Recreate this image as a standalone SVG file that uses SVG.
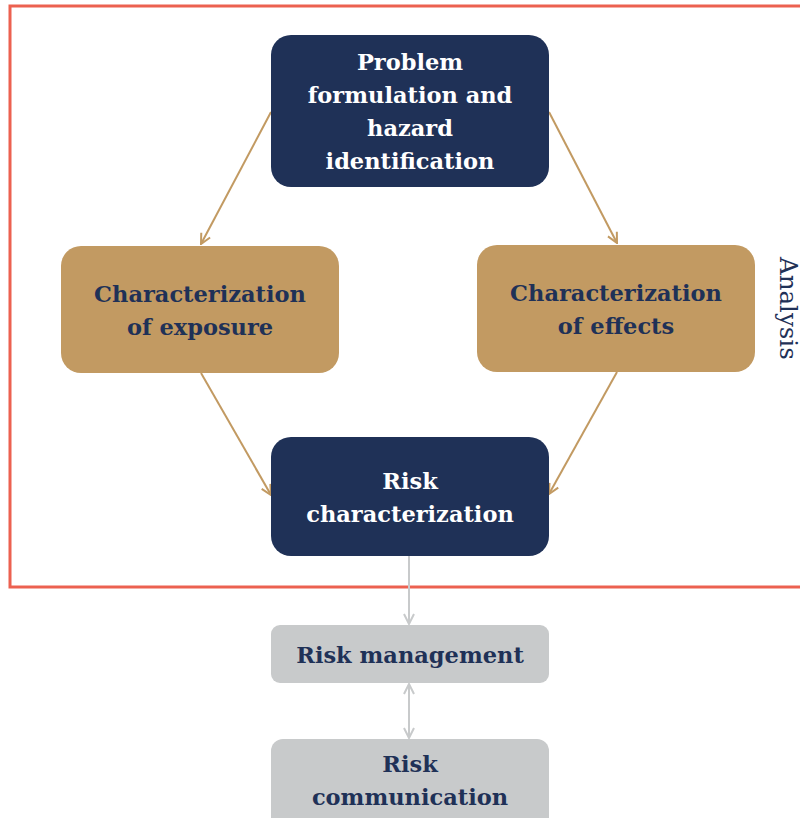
<svg xmlns="http://www.w3.org/2000/svg" width="800" height="818" viewBox="0 0 800 818">
<defs>
<style>
.navy{fill:#1f3157}
.tan{fill:#c29a62}
.gray{fill:#c8cacb}
.t{font-family:"DejaVu Serif","Liberation Serif",serif;font-weight:bold;font-size:22.5px;text-anchor:middle}
.w{fill:#ffffff}
.d{fill:#1f3157}
.c1{stroke:#c29a62;stroke-width:2;fill:none}
.c2{stroke:#c8cacb;stroke-width:2;fill:none}
</style>
<marker id="at" viewBox="0 0 12 12" refX="11" refY="6" markerWidth="12" markerHeight="12" markerUnits="userSpaceOnUse" orient="auto-start-reverse">
<path d="M1,1 L11,6 L1,11" fill="none" stroke="#c29a62" stroke-width="2"/>
</marker>
<marker id="ag" viewBox="0 0 12 12" refX="11" refY="6" markerWidth="12" markerHeight="12" markerUnits="userSpaceOnUse" orient="auto-start-reverse">
<path d="M1,1 L11,6 L1,11" fill="none" stroke="#c8cacb" stroke-width="2"/>
</marker>
</defs>
<rect width="800" height="818" fill="#ffffff"/>
<rect x="10" y="6" width="800" height="581" fill="none" stroke="#ec6150" stroke-width="3"/>
<text x="780" y="257" transform="rotate(90 780 257)" font-family="DejaVu Serif,serif" font-size="24.5" fill="#1f3157">Analysis</text>
<g id="connectors">
<line class="c1" x1="271" y1="112" x2="201" y2="244" marker-end="url(#at)"/>
<line class="c1" x1="549" y1="112" x2="617" y2="243" marker-end="url(#at)"/>
<line class="c1" x1="201" y1="373" x2="271" y2="495" marker-end="url(#at)"/>
<line class="c1" x1="617" y1="372" x2="549" y2="494" marker-end="url(#at)"/>
<line class="c2" x1="409" y1="556" x2="409" y2="624" marker-end="url(#ag)"/>
<line class="c2" x1="409" y1="684" x2="409" y2="738" marker-start="url(#ag)" marker-end="url(#ag)"/>
</g>
<g id="problem">
<rect class="navy" x="271" y="35" width="278" height="152" rx="20"/>
<text class="t w"><tspan x="410" y="70">Problem</tspan><tspan x="410" y="103">formulation and</tspan><tspan x="410" y="136">hazard</tspan><tspan x="410" y="169">identification</tspan></text>
</g>
<g id="exposure">
<rect class="tan" x="61" y="246" width="278" height="127" rx="20"/>
<text class="t d"><tspan x="200" y="302">Characterization</tspan><tspan x="200" y="335">of exposure</tspan></text>
</g>
<g id="effects">
<rect class="tan" x="477" y="245" width="278" height="127" rx="20"/>
<text class="t d"><tspan x="616" y="301">Characterization</tspan><tspan x="616" y="334">of effects</tspan></text>
</g>
<g id="riskchar">
<rect class="navy" x="271" y="437" width="278" height="119" rx="20"/>
<text class="t w"><tspan x="410" y="489">Risk</tspan><tspan x="410" y="522">characterization</tspan></text>
</g>
<g id="riskmgmt">
<rect class="gray" x="271" y="625" width="278" height="58" rx="9"/>
<text class="t d" x="410" y="663">Risk management</text>
</g>
<g id="riskcomm">
<rect class="gray" x="271" y="739" width="278" height="100" rx="12"/>
<text class="t d"><tspan x="410" y="772">Risk</tspan><tspan x="410" y="805">communication</tspan></text>
</g>
</svg>
